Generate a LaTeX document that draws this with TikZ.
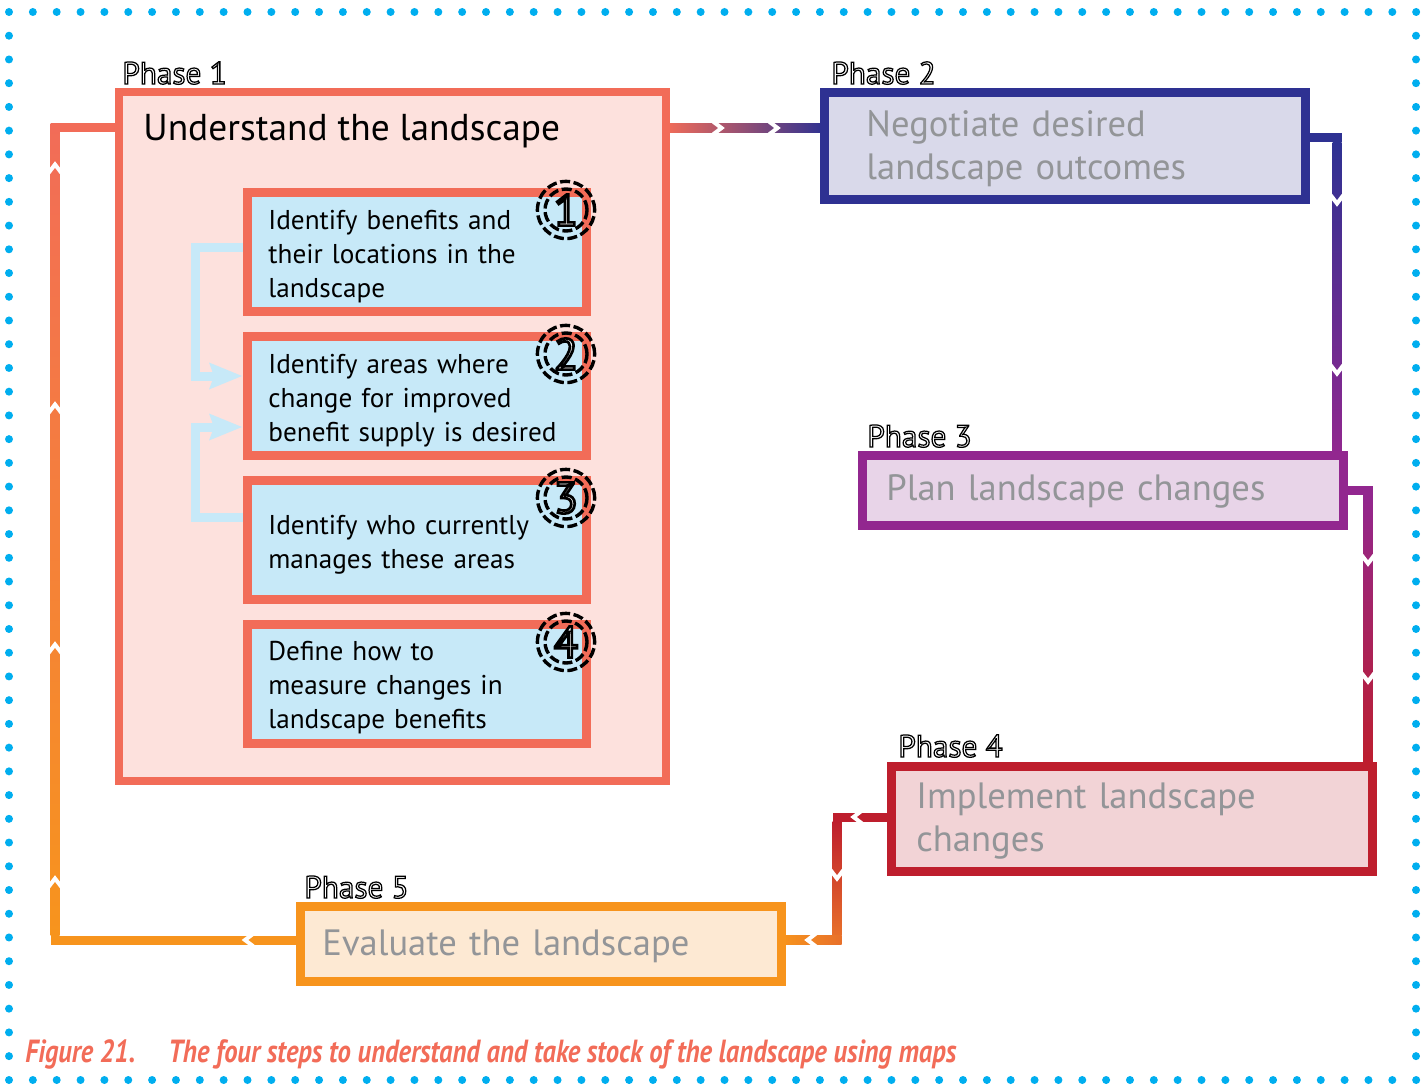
\documentclass[tikz,border=0pt]{standalone}
\usepackage{fontspec}
\usepackage{graphicx}
\setmainfont{PT Sans}
\newfontfamily\olfont[FakeBold=4]{PT Sans}
\newfontfamily\oldigit[FakeBold=6]{PT Sans}
\usetikzlibrary{calc,arrows.meta}
\pgfdeclarelayer{links}
\pgfsetlayers{links,main}

\definecolor{coral}{HTML}{F26C58}
\definecolor{pinkfill}{HTML}{FDE1DD}
\definecolor{skyfill}{HTML}{C7E9F8}
\definecolor{navy}{HTML}{2E3192}
\definecolor{navyfill}{HTML}{D9D9EA}
\definecolor{plum}{HTML}{92278F}
\definecolor{plumfill}{HTML}{E8D4E8}
\definecolor{crimson}{HTML}{BE1E2D}
\definecolor{crimsonfill}{HTML}{F2D3D6}
\definecolor{amber}{HTML}{F7941D}
\definecolor{amberfill}{HTML}{FDE9D3}
\definecolor{rust}{HTML}{E8702A}
\definecolor{greytext}{HTML}{939598}
\definecolor{dotblue}{HTML}{00AEEF}

% white letters with a black outline (stroke colour black, fill white)
\newcommand{\outlined}[1]{{\olfont\special{pdf:bcolor [1] [0]}#1\special{pdf:ecolor}}}
\newcommand{\outdigit}[1]{{\oldigit\special{pdf:bcolor [1] [0]}#1\special{pdf:ecolor}}}

\tikzset{
  chev/.pic={\draw[white, line width=2pt, line join=miter] (-5,-6.5) -- (3.5,0) -- (-5,6.5);}
}

\begin{document}
\begin{tikzpicture}[x=0.5pt,y=-0.5pt,
  phase/.style={rectangle, anchor=north west, outer sep=0pt, inner sep=0pt,
    line width=4.5pt, minimum width=240.5pt},
  phasetext/.style={anchor=west, inner sep=0pt, text width=220pt, align=left,
    text=greytext, font=\fontsize{18.3}{21.5}\selectfont},
  stepbox/.style={rectangle, anchor=north west, outer sep=0pt, inner sep=0pt,
    line width=4.5pt, draw=coral, fill=skyfill, minimum width=169.5pt,
    minimum height=59.5pt},
  steptext/.style={anchor=west, inner sep=0pt, text width=150pt, align=left,
    font=\fontsize{13.6}{17}\selectfont},
  tag/.style={anchor=base west, inner sep=0pt, font=\fontsize{15.6}{15.6}\selectfont},
  ring/.style={black, line width=1.7pt, dash pattern=on 5pt off 1.8pt},
  feed/.style={skyfill, line width=4.5pt, line join=miter,
    -{Stealth[length=16.5pt,width=13.5pt,inset=2.5pt,line width=0pt]}},
  caption/.style={anchor=base west, inner sep=0pt, text=coral,
    font=\bfseries\itshape\fontsize{16}{16}\selectfont}
]
\useasboundingbox (0,0) rectangle (1427,1085);

% dotted frame
\foreach \i in {0,...,59} {
  \fill[dotblue] ({9+\i*23.85},12) circle (2pt);
  \fill[dotblue] ({9+\i*23.85},1080) circle (2pt);
}
\foreach \i in {1,...,44} {
  \fill[dotblue] (9,{12+\i*23.73}) circle (2pt);
  \fill[dotblue] (1416,{12+\i*23.73}) circle (2pt);
}

% Phase 1 frame and its title
\node[rectangle, anchor=north west, outer sep=0pt, inner sep=0pt, line width=4pt,
  draw=coral, fill=pinkfill, minimum width=273.5pt, minimum height=344.5pt] (p1) at (119,92) {};
\node[anchor=base west, inner sep=0pt, font=\fontsize{18.7}{20}\selectfont] (t1) at (143,141) {Understand the landscape};

% the four steps
\node[stepbox] (s1) at (247.5,192.5) {};
\node[stepbox] (s2) at (247.5,336.5) {};
\node[stepbox] (s3) at (247.5,480.5) {};
\node[stepbox] (s4) at (247.5,624.5) {};
\node[steptext] (s1t) at ($(s1.west)+(20.5,5)$) {Identify benefits and\\their locations in the\\landscape};
\node[steptext] (s2t) at ($(s2.west)+(20.5,5)$) {Identify areas where\\change for improved\\benefit supply is desired};
\node[steptext] (s3t) at ($(s3.west)+(20.5,5)$) {Identify who currently\\manages these areas};
\node[steptext] (s4t) at ($(s4.west)+(20.5,4)$) {Define how to\\measure changes in\\landscape benefits};

% feedback into step 2
\draw[feed] ($(s1.west)+(-4.5,-4)$) -- ++(-48,0) |- ($(s2.west)+(-5.5,-20)$);
\draw[feed] ($(s3.west)+(-4.5,-23)$) -- ++(-48,0) |- ($(s2.west)+(-5.5,31)$);

% step numbers
\foreach \k in {1,2,3,4} {
  \node[circle, draw, ring, minimum size=21pt, inner sep=0pt,
    font=\fontsize{22}{22}\selectfont] (r\k) at (566,{210+144*(\k-1)}) {\outdigit{\k}};
  \draw[ring] (r\k.center) circle[radius=14.3pt];
}

% phases 2 to 5
\node[phase, draw=navy, fill=navyfill, minimum height=53.5pt] (p2) at (824.5,92.5) {};
\node[phase, draw=plum, fill=plumfill, minimum height=35pt] (p3) at (862.5,455.5) {};
\node[phase, draw=crimson, fill=crimsonfill, minimum height=52.5pt] (p4) at (891.5,766.5) {};
\node[phase, draw=amber, fill=amberfill, minimum height=37.5pt] (p5) at (300.5,906.5) {};
\node[phasetext] (p2t) at ($(p2.west)+(41.5,3)$) {Negotiate desired\\landscape outcomes};
\node[phasetext] (p3t) at ($(p3.west)+(23.5,1)$) {Plan landscape changes};
\node[phasetext] (p4t) at ($(p4.west)+(24.5,2)$) {Implement landscape\\changes};
\node[phasetext] (p5t) at ($(p5.west)+(21.5,2)$) {Evaluate the landscape};

% phase labels
\node[tag] (l1) at (122,84) {\outlined{Phase 1}};
\node[tag] (l2) at (831,84) {\outlined{Phase 2}};
\node[tag] (l3) at (867,447) {\outlined{Phase 3}};
\node[tag] (l4) at (898,757) {\outlined{Phase 4}};
\node[tag] (l5) at (304,898) {\outlined{Phase 5}};

% links between phases, under the frames
\begin{pgfonlayer}{links}
  % 1 -> 2
  \coordinate (a12) at ($(p1.north east)+(0,36)$);
  \coordinate (b12) at ($(p2.north west)+(0,35.5)$);
  \shade[left color=coral, right color=navy] ($(a12)+(0,-4.5)$) rectangle ($(b12)+(0,4.5)$);
  \pic at ($(a12)+(52,0)$) {chev};
  \pic at ($(a12)+(108,0)$) {chev};
  % 2 -> 3
  \coordinate (a23) at ($(p2.north east)+(0,45.5)$);
  \coordinate (k23) at ($(a23)+(31.5,0)$);
  \coordinate (b23) at (k23 |- p3.north);
  \fill[navy] ($(a23)+(0,-4.5)$) rectangle ($(k23)+(4.5,4.5)$);
  \shade[top color=navy, bottom color=plum] ($(k23)+(-4.5,4.5)$) rectangle ($(b23)+(4.5,0)$);
  \pic[rotate=-90] at ($(k23)+(0,62)$) {chev};
  \pic[rotate=-90] at ($(k23)+(0,232)$) {chev};
  % 3 -> 4
  \coordinate (a34) at ($(p3.north east)+(0,34.5)$);
  \coordinate (k34) at ($(a34)+(24.5,0)$);
  \coordinate (b34) at (k34 |- p4.north);
  \fill[plum] ($(a34)+(0,-4.5)$) rectangle ($(k34)+(4.5,4.5)$);
  \shade[top color=plum, bottom color=crimson] ($(k34)+(-4.5,4.5)$) rectangle ($(b34)+(4.5,0)$);
  \pic[rotate=-90] at ($(k34)+(0,70)$) {chev};
  \pic[rotate=-90] at ($(k34)+(0,188)$) {chev};
  % 4 -> 5
  \coordinate (a45) at ($(p4.north west)+(0,50.5)$);
  \coordinate (k45) at ($(a45)+(-54.5,0)$);
  \coordinate (m45) at ($(k45)+(0,123)$);
  \coordinate (b45) at (m45 -| p5.east);
  \fill[crimson] ($(k45)+(-4.5,-4.5)$) rectangle ($(a45)+(0,4.5)$);
  \shade[top color=crimson, bottom color=rust] ($(k45)+(-4.5,4.5)$) rectangle ($(m45)+(4.5,-4.5)$);
  \shade[left color=amber, right color=rust] ($(b45)+(0,-4.5)$) rectangle ($(m45)+(4.5,4.5)$);
  \pic[rotate=180] at ($(k45)+(20,0)$) {chev};
  \pic[rotate=-90] at ($(k45)+(0,58)$) {chev};
  \pic[rotate=180] at ($(m45)+(-26,0)$) {chev};
  % 5 -> 1
  \coordinate (a51) at ($(p5.north west)+(0,33.5)$);
  \coordinate (k51) at ($(a51)+(-245.5,0)$);
  \coordinate (b51) at ($(p1.north west)+(0,36)$);
  \coordinate (m51) at (k51 |- b51);
  \fill[amber] ($(k51)+(-4.5,-4.5)$) rectangle ($(a51)+(0,4.5)$);
  \shade[top color=coral, bottom color=amber] ($(m51)+(-4.5,-4.5)$) rectangle ($(k51)+(4.5,-4.5)$);
  \fill[coral] ($(m51)+(-4.5,-4.5)$) rectangle ($(b51)+(0,4.5)$);
  \pic[rotate=180] at ($(a51)+(-52,0)$) {chev};
  \pic[rotate=90] at ($(k51)+(0,-58)$) {chev};
  \pic[rotate=90] at ($(k51)+(0,-292)$) {chev};
  \pic[rotate=90] at ($(k51)+(0,-532)$) {chev};
  \pic[rotate=90] at ($(k51)+(0,-772)$) {chev};
\end{pgfonlayer}

% caption
\node[caption] (f1) at (25,1062) {\resizebox{55pt}{\height}{Figure 21.}};
\node[caption] (f2) at (168,1062) {\resizebox{394pt}{\height}{The four steps to understand and take stock of the landscape using maps}};
\end{tikzpicture}
\end{document}
